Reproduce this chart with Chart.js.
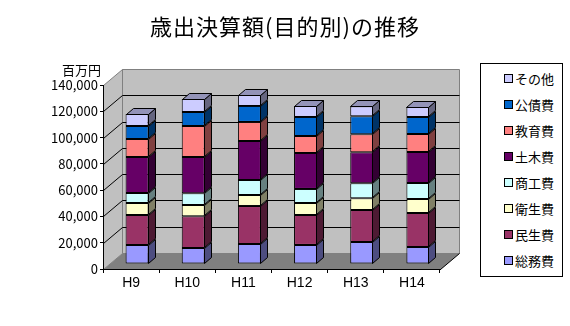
<!DOCTYPE html>
<html>
<head>
<meta charset="utf-8">
<script src="https://cdn.jsdelivr.net/npm/chart.js@4/dist/chart.umd.min.js"></script>
<style>
body { margin: 0; background: #fff; }
#wrap { position: relative; width: 570px; height: 326px; }
#title { position: absolute; left: 0; top: 13px; width: 570px; text-align: center; font: 22px 'Noto Sans CJK JP', sans-serif; line-height: 24px; letter-spacing: 1px; }
#legend { position: absolute; left: 480px; top: 63px; width: 81px; height: 212px; border: 1px solid #000; background: #fff; }
.item { position: absolute; left: 23px; height: 16px; font: 13px 'Noto Sans CJK JP', sans-serif; line-height: 16px; white-space: nowrap; }
.item i { display: inline-block; width: 7px; height: 7px; border: 1px solid #000; margin-right: 2px; vertical-align: 1px; }
</style>
</head>
<body>
<div id="wrap">
  <canvas id="myChart" width="570" height="326"></canvas>
  <div id="title">歳出決算額(目的別)の推移</div>
  <div id="legend"></div>
</div>
<script>
// 年度
let years = ['H9', 'H10', 'H11', 'H12', 'H13', 'H14'];

// 目的別 (百万円) 下から積み上げ
let soumu   = [14500, 12200, 15200, 14500, 16700, 12900];
let minsei  = [22800, 24100, 28900, 22800, 24300, 25900];
let eisei   = [9100, 8600, 8400, 9100, 9100, 10700];
let shoko   = [7600, 8900, 11400, 10700, 11400, 12200];
let doboku  = [27400, 27600, 29700, 27400, 23600, 23600];
let kyoiku  = [13700, 23600, 14500, 12900, 13700, 13700];
let kousai  = [9900, 10700, 12200, 14500, 13700, 12900];
let sonota  = [9100, 9900, 8400, 8400, 7600, 7600];

let seriesNames = ['総務費', '民生費', '衛生費', '商工費', '土木費', '教育費', '公債費', 'その他'];
let seriesData = [soumu, minsei, eisei, shoko, doboku, kyoiku, kousai, sonota];
let seriesColors = ['#9999FF', '#993366', '#FFFFCC', '#CCFFFF', '#660066', '#FF8080', '#0066CC', '#CCCCFF'];

let yTicks = [0, 20000, 40000, 60000, 80000, 100000, 120000, 140000];

// 奥行き
const DX = 19, DY = -16;     // 壁
const FX = 6, FY = -5;       // 棒の前面
const SX = 7, SY = -6;       // 棒の側面

function shade(hex, f) {
    let n = parseInt(hex.slice(1), 16);
    let r = Math.round(((n >> 16) & 255) * f);
    let g = Math.round(((n >> 8) & 255) * f);
    let b = Math.round((n & 255) * f);
    return `rgb(${r},${g},${b})`;
}

function poly(ctx, pts, fill, stroke) {
    ctx.beginPath();
    ctx.moveTo(pts[0][0], pts[0][1]);
    for (let k = 1; k < pts.length; k++) ctx.lineTo(pts[k][0], pts[k][1]);
    ctx.closePath();
    if (fill) { ctx.fillStyle = fill; ctx.fill(); }
    if (stroke) { ctx.strokeStyle = stroke; ctx.lineWidth = 1; ctx.stroke(); }
}

const walls = {
    id: 'walls',
    beforeDraw(chart) {
        const ctx = chart.ctx;
        const a = chart.chartArea;
        const y = chart.scales.y;
        const L = a.left + 0.5, R = a.right + 0.5, T = a.top + 0.5, B = a.bottom + 0.5;
        ctx.save();
        // 奥の壁
        poly(ctx, [[L + DX, T + DY], [R + DX, T + DY], [R + DX, B + DY], [L + DX, B + DY]], '#C0C0C0', '#808080');
        // 左の壁
        poly(ctx, [[L, T], [L + DX, T + DY], [L + DX, B + DY], [L, B]], '#C0C0C0', '#808080');
        // 床
        poly(ctx, [[L, B], [L + DX, B + DY], [R + DX, B + DY], [R, B]], '#808080', null);
        ctx.strokeStyle = '#000';
        ctx.beginPath();
        ctx.moveTo(R, B);
        ctx.lineTo(R + DX, B + DY);
        ctx.stroke();
        // 目盛線
        yTicks.forEach(v => {
            if (v <= 0 || v >= 140000) return;
            let py = Math.round(y.getPixelForValue(v)) + 0.5;
            ctx.beginPath();
            ctx.moveTo(L, py);
            ctx.lineTo(L + DX, py + DY);
            ctx.lineTo(R + DX, py + DY);
            ctx.stroke();
        });
        ctx.restore();
    },
    beforeDatasetsDraw(chart) {
        chart.ctx.save();
        chart.ctx.translate(FX, FY);
    },
    afterDatasetsDraw(chart) {
        const ctx = chart.ctx;
        ctx.restore();
        ctx.save();
        const last = chart.data.datasets.length - 1;
        chart.data.datasets.forEach((ds, di) => {
            const meta = chart.getDatasetMeta(di);
            meta.data.forEach(bar => {
                const p = bar.getProps(['x', 'y', 'base', 'width'], true);
                const left = Math.round(p.x - p.width / 2) + FX + 0.5;
                const right = Math.round(p.x + p.width / 2) + FX - 0.5;
                const top = Math.round(Math.min(p.y, p.base)) + FY + 0.5;
                const bottom = Math.round(Math.max(p.y, p.base)) + FY - 0.5;
                poly(ctx, [[right, top], [right + SX, top + SY], [right + SX, bottom + SY], [right, bottom]], shade(ds.backgroundColor, 0.5), '#000');
                if (di === last) {
                    poly(ctx, [[left, top], [left + SX, top + SY], [right + SX, top + SY], [right, top]], shade(ds.backgroundColor, 0.72), '#000');
                }
            });
        });
        // 単位
        ctx.fillStyle = '#000';
        ctx.font = "13px 'Noto Sans CJK JP', sans-serif";
        ctx.textAlign = 'right';
        ctx.textBaseline = 'middle';
        ctx.fillText('百万円', 101, 70);
        ctx.restore();
    }
};

Chart.defaults.font.family = "'Noto Sans CJK JP', sans-serif";
Chart.defaults.color = '#000';

const ctx = document.getElementById('myChart');

var chart = new Chart(ctx, {
    type: 'bar',
    data: {
        labels: years,
        datasets: seriesNames.map((name, k) => ({
            label: name,
            data: seriesData[k],
            backgroundColor: seriesColors[k],
            borderColor: '#000',
            borderWidth: 1,
            borderSkipped: false,
            barPercentage: 0.41,
            categoryPercentage: 1
        }))
    },
    options: {
        responsive: false,
        animation: false,
        layout: { padding: { left: 0, right: 130, top: 85, bottom: 0 } },
        plugins: {
            legend: { display: false },
            tooltip: { enabled: false },
            title: { display: false }
        },
        scales: {
            x: {
                stacked: true,
                grid: { drawOnChartArea: false, tickLength: 4, color: '#000', offset: true },
                border: { color: '#000' },
                ticks: { font: { family: "'Liberation Sans', sans-serif", size: 14 }, padding: 2 },
                afterFit: (s) => { s.height = 57; }
            },
            y: {
                stacked: true,
                min: 0,
                max: 140000,
                afterBuildTicks: (s) => { s.ticks = yTicks.map(v => ({ value: v })); },
                grid: { drawOnChartArea: false, tickLength: 3, color: '#000' },
                border: { color: '#000' },
                ticks: {
                    font: { size: 13 },
                    padding: 2,
                    callback: (v) => v.toLocaleString('en-US')
                },
                afterFit: (s) => { s.width = 103; }
            }
        }
    },
    plugins: [walls]
});

// 凡例 (上から逆順)
let legendBox = document.getElementById('legend');
let order = seriesNames.map((n, k) => k).reverse();
order.forEach((k, row) => {
    let d = document.createElement('div');
    d.className = 'item';
    d.style.top = (7 + row * 26) + 'px';
    d.innerHTML = `<i style="background:${seriesColors[k]}"></i>${seriesNames[k]}`;
    legendBox.appendChild(d);
});
</script>
</body>
</html>
